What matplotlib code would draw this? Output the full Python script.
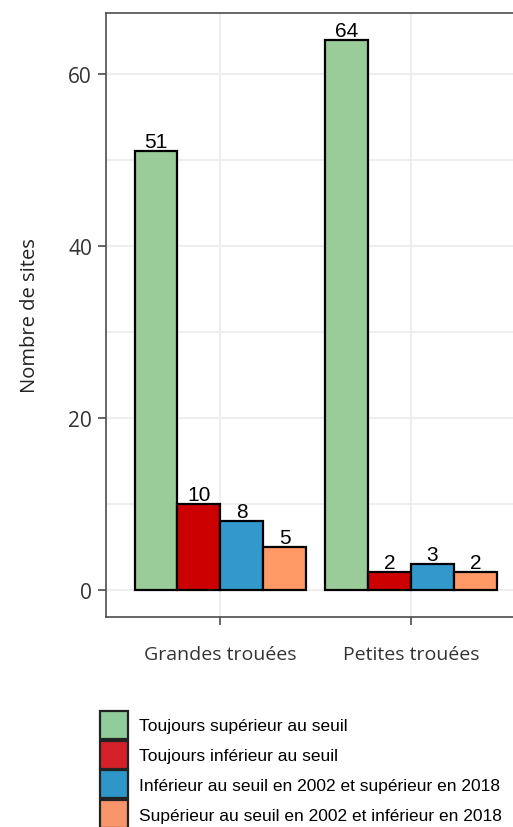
import numpy as np
import matplotlib.pyplot as plt
from matplotlib.patches import Patch

categories = ['Grandes trouées', 'Petites trouées']
series = ['Toujours supérieur au seuil',
          'Toujours inférieur au seuil',
          'Inférieur au seuil en 2002 et supérieur en 2018',
          'Supérieur au seuil en 2002 et inférieur en 2018']
values = [[51, 64],
          [10, 2],
          [8, 3],
          [5, 2]]
bar_colors = ['#99cc99', '#cc0000', '#3399cc', '#ff9966']
legend_colors = ['#8fcd9a', '#d42028', '#2e96c9', '#f8956a']

fig = plt.figure(figsize=(5.13, 8.28), dpi=100)
ax = fig.add_axes([106/513, 1 - 618/828, 1 - 106/513, (618 - 14)/828])

x = np.arange(1, len(categories) + 1)
w = 0.9 / len(series)
for i, (name, vals) in enumerate(zip(series, values)):
    pos = x - 0.45 + w/2 + i*w
    bars = ax.bar(pos, vals, width=w, color=bar_colors[i],
                  edgecolor='black', linewidth=1.6, zorder=3, label=name)
    ax.bar_label(bars, padding=0, fontsize=15, family='Liberation Sans',
                 color='black')

ax.set_xlim(0.4, 2.535)
ax.set_ylim(-3.2, 67.1)
ax.set_xticks(x)
ax.set_xticklabels(categories)
ax.set_yticks([0, 20, 40, 60])
ax.set_yticks([10, 30, 50], minor=True)
ax.tick_params(axis='y', which='minor', length=0)
ax.grid(True, which='both', color='#ebebeb', linewidth=1.2, zorder=0)
ax.set_axisbelow(True)

for s in ['left', 'top', 'bottom']:
    ax.spines[s].set_color('#4d4d4d')
    ax.spines[s].set_linewidth(1.2)
ax.spines['right'].set_visible(False)
ax.tick_params(axis='both', which='major', length=6, width=1.2,
               color='#4d4d4d', labelcolor='#333333', pad=4)
ax.tick_params(axis='y', labelsize=15)
ax.tick_params(axis='x', labelsize=14, pad=14)
for lab in ax.get_xticklabels() + ax.get_yticklabels():
    lab.set_family('Open Sans')
ax.set_ylabel('Nombre de sites', fontsize=14.5, family='Open Sans',
              color='#222222', labelpad=20)

handles = [Patch(facecolor=c, edgecolor='#222222', linewidth=1.6)
           for c in legend_colors]
fig.legend(handles, series, loc='upper left',
           bbox_to_anchor=(100/513, 1 - 712/828), frameon=False,
           prop={'family': 'Liberation Sans', 'size': 12.5},
           handlelength=1.6, handleheight=2.1, labelspacing=0.1,
           handletextpad=0.65, borderpad=0, borderaxespad=0)

fig.savefig('out.png', dpi=100)
